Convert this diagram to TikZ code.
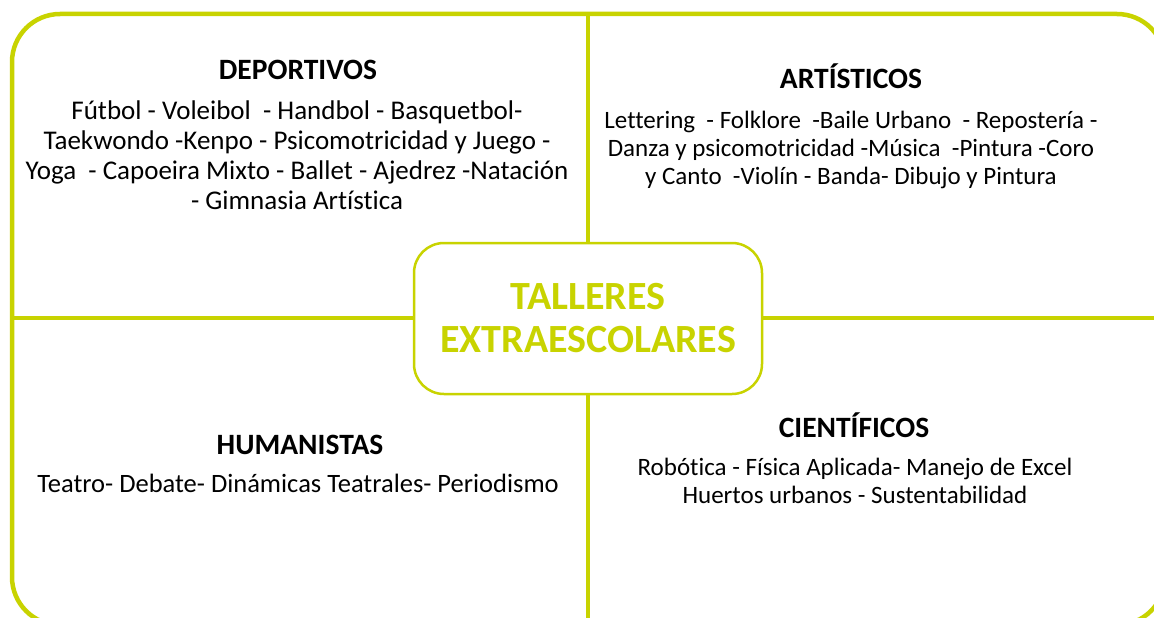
\documentclass[tikz,border=0pt]{standalone}
\usepackage{fontspec}
\setmainfont{Carlito}[Ligatures=NoCommon]
\definecolor{lime}{RGB}{200,211,0}
\begin{document}
\begin{tikzpicture}[x=1pt,y=-1pt,
  frame/.style={draw=lime,line width=4.5pt,rounded corners=48pt},
  divider/.style={draw=lime,line width=4pt},
  hub/.style={draw=lime,fill=white,line width=2.5pt,rounded corners=30pt,minimum width=348pt,minimum height=151pt,
    font=\bfseries\fontsize{40}{43}\selectfont,text=lime,align=center},
  heading/.style={font=\bfseries\fontsize{29.5}{32}\selectfont,inner sep=0pt},
  body/.style={font=\fontsize{27}{29}\selectfont,align=center,inner sep=0pt}]
\useasboundingbox (0,0) rectangle (1154,618);
\draw[frame] (12,14) rectangle (1165,625);
\coordinate (top) at (588,14);
\coordinate (bottom) at (588,625);
\coordinate (left) at (12,318);
\coordinate (right) at (1165,318);
\draw[divider] (top) -- (bottom);
\draw[divider] (left) -- (right);
\node[hub] (hub) at (588,318.5) {TALLERES\\EXTRAESCOLARES};
\node[heading] (dep) at (298,70) {DEPORTIVOS};
\node[body,font=\fontsize{27}{30}\selectfont] (depb) at (297,155) {Fútbol - Voleibol \ - Handbol - Basquetbol-\\Taekwondo -Kenpo - Psicomotricidad y Juego -\\Yoga \ - Capoeira Mixto - Ballet - Ajedrez -Natación\\- Gimnasia Artística};
\node[heading] (art) at (851,76) {ARTÍSTICOS};
\node[body,font=\fontsize{25}{28}\selectfont] (artb) at (851,150) {Lettering \ - Folklore \ -Baile Urbano \ - Repostería -\\Danza y psicomotricidad -Música \ -Pintura -Coro\\y Canto \ -Violín - Banda- Dibujo y Pintura};
\node[heading] (hum) at (300,445) {HUMANISTAS};
\node[body,font=\fontsize{26.5}{29}\selectfont] (humb) at (298,483) {Teatro- Debate- Dinámicas Teatrales- Periodismo};
\node[heading] (cie) at (854,425) {CIENTÍFICOS};
\node[body,font=\fontsize{25}{28}\selectfont] (cieb) at (855,481) {Robótica - Física Aplicada- Manejo de Excel\\Huertos urbanos - Sustentabilidad};
\end{tikzpicture}
\end{document}
